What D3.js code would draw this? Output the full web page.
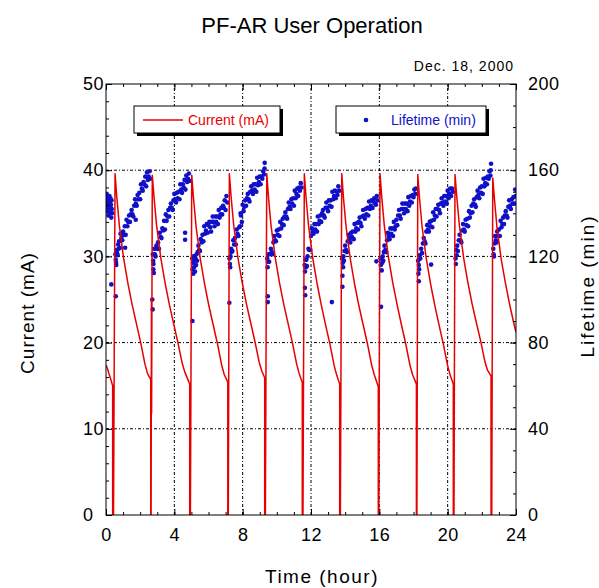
<!DOCTYPE html>
<html>
  <head>
    <meta charset="utf-8">
    <title>PF-AR User Operation</title>
    <script src="https://d3js.org/d3.v7.min.js"></script>
    <style>
      body { margin: 0; background: #fff; }
      svg text { font-family: "Liberation Sans", Arial, sans-serif; fill: #000; }
      .axis path { display: none; }
      .axis line { stroke: #000; stroke-width: 1; }
      .axis text { font-size: 18px; letter-spacing: 0.5px; }
      .grid line { stroke: #000; stroke-width: 1; stroke-dasharray: 3,2,1,2; }
    </style>
  </head>
  <body>
    <svg id="chart" width="599" height="588"></svg>
    <script>
      // tick labels
      var xTicks = [0, 4, 8, 12, 16, 20, 24];
      var currentTicks = [0, 10, 20, 30, 40, 50];
      var lifetimeTicks = [0, 40, 80, 120, 160, 200];

      // beam current (hour, mA)
      var currentData = [
        [0, 17.4], [0.1, 16.9], [0.2, 16.2], [0.3, 15.6], [0.39, 15.0], [0.39, 0], [0.44, 0], [0.53, 39.6],
        [0.63, 36.9], [0.78, 33.6], [1.03, 29.8], [1.28, 26.9], [1.53, 24.4], [1.78, 22.2], [2.03, 20.0], [2.28, 17.5], [2.43, 16.4], [2.6, 15.8], [2.62, 15.7],
        [2.62, 0], [2.64, 0], [2.66, 25], [2.67, 11.8], [2.71, 39.4],
        [2.81, 36.9], [2.96, 33.6], [3.21, 29.8], [3.46, 26.9], [3.71, 24.4], [3.96, 22.2], [4.21, 20.0], [4.46, 17.6], [4.61, 16.6], [4.88, 15.3], [4.9, 15.2],
        [4.9, 0], [4.94, 0], [5.02, 39.4],
        [5.12, 36.8], [5.27, 33.5], [5.52, 29.7], [5.77, 26.8], [6.02, 24.3], [6.27, 22.1], [6.52, 19.9], [6.77, 17.4], [6.92, 16.3], [7.11, 15.5], [7.13, 15.4],
        [7.13, 0], [7.16, 0], [7.22, 39.6],
        [7.32, 37.0], [7.47, 33.7], [7.72, 29.9], [7.97, 27.0], [8.22, 24.5], [8.47, 22.3], [8.72, 20.1], [8.97, 17.7], [9.12, 16.7], [9.27, 16.0], [9.29, 15.9],
        [9.29, 0], [9.33, 0], [9.41, 39.6],
        [9.51, 36.9], [9.66, 33.6], [9.91, 29.8], [10.16, 26.9], [10.41, 24.4], [10.66, 22.2], [10.91, 20.0], [11.16, 17.5], [11.31, 16.4], [11.47, 15.5], [11.49, 15.4],
        [11.49, 0], [11.53, 0], [11.61, 39.6],
        [11.71, 36.8], [11.86, 33.5], [12.11, 29.7], [12.36, 26.8], [12.61, 24.3], [12.86, 22.0], [13.11, 19.8], [13.36, 17.3], [13.51, 16.2], [13.66, 15.3], [13.68, 15.2],
        [13.68, 0], [13.72, 0], [13.8, 39.6],
        [13.9, 36.8], [14.05, 33.5], [14.3, 29.7], [14.55, 26.8], [14.8, 24.3], [15.05, 22.1], [15.3, 19.9], [15.55, 17.4], [15.7, 16.3], [15.92, 15.0], [15.94, 14.9],
        [15.94, 0], [15.97, 0], [16.04, 39.6],
        [16.14, 36.9], [16.29, 33.6], [16.54, 29.8], [16.79, 26.9], [17.04, 24.4], [17.29, 22.1], [17.54, 19.9], [17.79, 17.4], [17.94, 16.3], [18.15, 15.3], [18.17, 15.2],
        [18.17, 0], [18.2, 0], [18.25, 39.5],
        [18.35, 36.8], [18.5, 33.5], [18.75, 29.7], [19.0, 26.8], [19.25, 24.3], [19.5, 22.0], [19.75, 19.8], [20.0, 17.3], [20.15, 16.2], [20.31, 15.3], [20.33, 15.2],
        [20.33, 0], [20.37, 0], [20.43, 39.5],
        [20.53, 37.0], [20.68, 33.7], [20.93, 29.9], [21.18, 27.0], [21.43, 24.5], [21.68, 22.3], [21.93, 20.2], [22.18, 17.8], [22.33, 16.8], [22.52, 16.2], [22.54, 16.1],
        [22.54, 0], [22.58, 0], [22.64, 39.1],
        [22.74, 36.6], [22.89, 33.3], [23.14, 29.6], [23.39, 26.8], [23.64, 24.3], [23.89, 22.1], [24.0, 21.2]
      ];

      // beam lifetime (hour, min), one array per fill
      var lt0 = [[0.02,146],[0.04,149],[0.05,143],[0.07,147],[0.08,141],[0.10,145],[0.11,148],[0.13,143],[0.14,139],[0.16,146],[0.17,142],[0.19,144],[0.20,148],[0.22,140],[0.23,145],[0.25,143],[0.26,147],[0.28,141],[0.29,144],[0.31,138],[0.32,146],[0.34,142],[0.35,140],[0.31,107]];
      var lt1 = [[0.55,121],[0.57,118.5],[0.59,117],[0.61,121.5],[0.63,123],[0.65,121.5],[0.68,120.5],[0.71,125.5],[0.74,123.5],[0.77,127],[0.81,124],[0.85,130.5],[0.90,128.5],[0.95,127.5],[1.00,131.5],[1.05,130],[1.10,134],[1.15,130],[1.20,137],[1.25,134],[1.30,136],[1.35,139],[1.40,136],[1.45,139.5],[1.50,141.5],[1.55,139.5],[1.60,138.5],[1.65,143.5],[1.70,146.5],[1.75,144.5],[1.80,143.5],[1.85,148.5],[1.90,146.5],[1.95,149.5],[2.00,146.5],[2.05,153.5],[2.10,151.5],[2.15,150.5],[2.20,154.5],[2.25,153.5],[2.30,157],[2.35,152.5],[2.40,159],[2.45,155.5],[2.50,157],[2.55,159.5],[2.59,156],[0.57,101.5],[0.60,116],[1.74,137],[1.12,124]];
      var lt2 = [[2.74,121],[2.76,118],[2.78,116.5],[2.80,121],[2.83,123.5],[2.86,121],[2.90,120],[2.95,125],[3.00,123.5],[3.05,126.5],[3.10,123.5],[3.15,131],[3.20,129],[3.25,128.5],[3.30,133],[3.35,132],[3.40,136.5],[3.45,132.5],[3.50,139.5],[3.55,136.5],[3.60,138.5],[3.65,141.5],[3.70,138.5],[3.75,142.5],[3.80,144.5],[3.85,142.5],[3.90,141.5],[3.95,146],[4.00,149],[4.05,146.5],[4.10,145],[4.15,149.5],[4.20,147],[4.25,150],[4.30,146.5],[4.35,153.5],[4.40,151],[4.45,149.5],[4.50,153.5],[4.55,152],[4.60,155.5],[4.65,151],[4.70,157.5],[4.75,154.5],[4.80,156],[4.85,158.5],[4.88,155],[2.71,100],[2.73,95.4],[2.80,112.3],[4.63,131],[4.63,127.7],[2.77,114]];
      var lt3 = [[5.05,119],[5.07,114],[5.09,117],[5.11,112],[5.13,120],[5.15,115],[5.18,118],[5.21,113],[5.24,119],[5.27,116],[5.30,121],[5.33,118],[5.37,122],[5.41,125],[5.45,123],[5.50,122.5],[5.55,128],[5.60,126.5],[5.65,130],[5.70,127],[5.75,134],[5.80,130.5],[5.85,132],[5.90,135],[5.95,131],[6.00,134.5],[6.05,136],[6.10,133.5],[6.15,131.5],[6.20,136],[6.25,138.5],[6.30,136],[6.35,134],[6.40,138.5],[6.45,136],[6.50,138.5],[6.55,135],[6.60,141.5],[6.65,138],[6.70,139.5],[6.75,142.5],[6.80,139.5],[6.85,143.5],[6.90,142.5],[6.95,146],[7.00,141.5],[7.05,148],[7.10,145],[5.06,90]];
      var lt4 = [[7.23,119],[7.25,116.5],[7.27,115],[7.29,120],[7.32,123.5],[7.35,122],[7.40,122.5],[7.45,127.5],[7.50,125.5],[7.55,128.5],[7.60,125.5],[7.65,132.5],[7.70,130.5],[7.75,129.5],[7.80,133.5],[7.85,134],[7.88,140],[7.90,139],[7.95,136],[8.00,144],[8.05,141],[8.10,143],[8.15,146],[8.20,143.5],[8.25,147],[8.30,149],[8.35,146.5],[8.40,145.5],[8.45,150],[8.50,152.5],[8.55,150.5],[8.60,149],[8.65,153.5],[8.70,151],[8.75,153.5],[8.80,150],[8.85,156.5],[8.90,153],[8.95,154.5],[9.00,157],[9.05,153.5],[9.10,157],[9.15,156],[9.20,159.5],[9.25,158],[9.28,160.8],[9.29,163.4],[7.22,98.5]];
      var lt5 = [[9.44,119],[9.46,115],[9.48,117.5],[9.51,121],[9.55,117.5],[9.60,121],[9.65,123.5],[9.70,122],[9.75,121],[9.80,126.5],[9.85,129.5],[9.90,127.5],[9.95,127],[10.00,132],[10.05,130],[10.10,132.5],[10.15,129.5],[10.20,136],[10.25,133],[10.30,135],[10.35,137.5],[10.40,134.5],[10.45,138.5],[10.50,140.5],[10.55,138.5],[10.60,137.5],[10.65,142],[10.70,145],[10.75,143],[10.80,142],[10.85,146.5],[10.90,144.5],[10.95,147],[11.00,143.5],[11.05,150.5],[11.10,147],[11.15,149],[11.20,151.5],[11.25,148],[11.30,152],[11.35,150.5],[11.40,154],[11.45,152],[9.47,101.5],[9.47,98.8]];
      var lt6 = [[11.63,116],[11.65,113],[11.67,118.5],[11.70,115],[11.73,118.5],[11.76,115.5],[11.80,120],[11.85,123.5],[11.90,123],[11.95,123],[12.00,129.5],[12.05,133],[12.10,131.5],[12.15,130.5],[12.20,135],[12.25,132.5],[12.30,135],[12.35,131.5],[12.40,138.5],[12.45,135],[12.50,136.5],[12.55,139],[12.60,136],[12.65,140],[12.70,141.5],[12.75,139],[12.80,138],[12.85,142.5],[12.90,145],[12.95,142.5],[13.00,141],[13.05,146],[13.10,143.5],[13.15,146],[13.20,143],[13.25,150],[13.30,146.5],[13.35,148],[13.40,150.5],[13.45,147],[13.50,150],[13.55,148.5],[13.60,152.5],[13.65,150.5],[11.64,105.4],[11.66,102],[13.22,98.8]];
      var lt7 = [[13.82,119],[13.84,111],[13.86,117],[13.88,115],[13.90,120],[13.93,118],[13.96,122.5],[14.00,125],[14.05,123],[14.10,122],[14.15,127],[14.20,130],[14.25,128],[14.30,126.5],[14.35,131],[14.40,129],[14.45,131.5],[14.50,128],[14.55,135],[14.60,131.5],[14.65,133],[14.70,135.5],[14.75,132.5],[14.80,136],[14.85,138],[14.90,135.5],[14.95,134],[15.00,138.5],[15.05,141.5],[15.10,139],[15.15,137.5],[15.20,142],[15.25,139.5],[15.30,142.5],[15.35,139],[15.40,145.5],[15.45,142],[15.50,143.5],[15.55,146],[15.60,142.5],[15.65,145.5],[15.70,147],[15.75,144.5],[15.80,144],[15.85,148],[15.90,146],[13.84,105.9],[15.83,117.7]];
      var lt8 = [[16.07,119],[16.09,116],[16.11,119],[16.14,113.5],[16.17,117],[16.20,120],[16.23,118],[16.26,122],[16.30,125],[16.35,123],[16.40,122],[16.45,127.5],[16.50,131],[16.55,129.5],[16.60,128],[16.65,133],[16.70,130.5],[16.75,133],[16.80,129.5],[16.85,136],[16.90,132.5],[16.95,134],[17.00,137],[17.05,134.5],[17.10,139],[17.15,141.5],[17.20,139],[17.25,137.5],[17.30,142],[17.35,144.5],[17.40,142],[17.45,140],[17.50,144.5],[17.55,142],[17.60,144.5],[17.65,141],[17.70,147.5],[17.75,143.5],[17.80,145.5],[17.85,148],[17.90,145],[17.95,148.5],[18.00,147.5],[18.05,151],[18.10,149],[18.14,151.5],[16.10,96.6]];
      var lt9 = [[18.27,118],[18.29,112],[18.31,116],[18.33,114],[18.36,120.5],[18.40,119],[18.45,123.5],[18.50,121.5],[18.55,126],[18.60,128.5],[18.65,127],[18.70,126],[18.75,131.5],[18.80,134.5],[18.85,132.5],[18.90,131.5],[18.95,136],[19.00,134],[19.05,136.5],[19.10,133.5],[19.15,140.5],[19.20,137],[19.25,139],[19.30,142],[19.35,138.5],[19.40,142],[19.45,144],[19.50,141.5],[19.55,140],[19.60,144.5],[19.65,147],[19.70,145],[19.75,143.5],[19.80,148],[19.85,145.5],[19.90,148],[19.95,144.5],[20.00,150.5],[20.05,147],[20.10,149],[20.15,151.5],[20.20,148],[20.25,151.5],[20.30,150],[18.31,108.5],[19.03,116.2]];
      var lt10 = [[20.46,119],[20.48,116.5],[20.50,123],[20.53,120.5],[20.56,125],[20.60,122.5],[20.65,127.5],[20.70,130],[20.75,127.5],[20.80,126.5],[20.85,132],[20.90,135],[20.95,132.5],[21.00,131.5],[21.05,137],[21.10,134.5],[21.15,137.5],[21.20,134],[21.25,141],[21.30,138],[21.35,140],[21.40,143.5],[21.45,140.5],[21.50,144.5],[21.55,146.5],[21.60,144],[21.65,143],[21.70,147.5],[21.75,150.5],[21.80,148.5],[21.85,147],[21.90,152],[21.95,149.5],[22.00,152.5],[22.05,149],[22.10,156],[22.15,152.5],[22.20,154],[22.25,156.5],[22.30,153.5],[22.35,157],[22.40,156],[22.45,159.5],[22.50,157.5],[22.52,160],[22.54,163]];
      var lt11 = [[22.67,123.5],[22.69,121],[22.71,120],[22.74,126],[22.78,129.5],[22.82,127.5],[22.86,126.5],[22.90,131.5],[22.95,129.5],[23.00,132.5],[23.05,129.5],[23.10,136.5],[23.15,133.5],[23.20,135],[23.25,138],[23.30,135],[23.35,139],[23.40,141],[23.45,139],[23.50,138],[23.55,143],[23.60,146],[23.65,143.5],[23.70,142],[23.75,146.5],[23.80,144.5],[23.85,147.5],[23.90,144.5],[23.95,151],[23.99,148]];
      var lifetimeData = [].concat(lt0, lt1, lt2, lt3, lt4, lt5, lt6, lt7, lt8, lt9, lt10, lt11);

      var red = "#e60000", blue = "#1010c8";
      var margin = { top: 84, right: 83, bottom: 73, left: 106 };
      var width = 599, height = 588;
      var svg = d3.select("#chart");

      var x = d3.scaleLinear().domain([0, 24]).range([margin.left, width - margin.right]);
      var yCur = d3.scaleLinear().domain([0, 50]).range([height - margin.bottom, margin.top]);
      var yLife = d3.scaleLinear().domain([0, 200]).range([height - margin.bottom, margin.top]);
      var x0 = margin.left, x1 = width - margin.right, y0 = height - margin.bottom, y1 = margin.top;

      svg.append("defs").append("clipPath").attr("id", "plotClip")
        .append("rect").attr("x", x0).attr("y", y1).attr("width", x1 - x0).attr("height", y0 - y1);

      // dotted grid
      var grid = svg.append("g").attr("class", "grid");
      grid.selectAll(".gx").data(xTicks.slice(1, -1)).enter().append("line")
        .attr("x1", function(d) { return x(d); }).attr("x2", function(d) { return x(d); })
        .attr("y1", y0).attr("y2", y1);
      grid.selectAll(".gy").data(currentTicks.slice(1, -1)).enter().append("line")
        .attr("y1", function(d) { return yCur(d); }).attr("y2", function(d) { return yCur(d); })
        .attr("x1", x0).attr("x2", x1);

      // lifetime dots, then current line on top
      svg.append("g").attr("clip-path", "url(#plotClip)")
        .selectAll("circle").data(lifetimeData).enter().append("circle")
          .attr("cx", function(d) { return x(d[0]); })
          .attr("cy", function(d) { return yLife(d[1]); })
          .attr("r", 2.3)
          .attr("fill", blue);
      var line = d3.line()
        .x(function(d) { return x(d[0]); })
        .y(function(d) { return yCur(d[1]); });
      svg.append("path").datum(currentData)
        .attr("clip-path", "url(#plotClip)")
        .attr("d", line)
        .attr("fill", "none")
        .attr("stroke", red)
        .attr("stroke-width", 1.5)
        .attr("stroke-linejoin", "round");

      // axes, ticks pointing inward
      svg.append("g").attr("class", "axis").attr("transform", "translate(0," + y0 + ")")
        .call(d3.axisBottom(x).tickValues(x.ticks(24)).tickSize(-3).tickFormat(""));
      svg.append("g").attr("class", "axis").attr("transform", "translate(0," + y0 + ")")
        .call(d3.axisBottom(x).tickValues(xTicks).tickSize(-6).tickPadding(13).tickFormat(d3.format("d")));
      svg.append("g").attr("class", "axis").attr("transform", "translate(0," + y1 + ")")
        .call(d3.axisTop(x).tickValues(x.ticks(24)).tickSize(-3).tickFormat(""));
      svg.append("g").attr("class", "axis").attr("transform", "translate(0," + y1 + ")")
        .call(d3.axisTop(x).tickValues(xTicks).tickSize(-6).tickFormat(""));

      svg.append("g").attr("class", "axis").attr("transform", "translate(" + x0 + ",0)")
        .call(d3.axisLeft(yCur).tickValues(yCur.ticks(25)).tickSize(-3).tickFormat(""));
      var leftAxis = svg.append("g").attr("class", "axis").attr("transform", "translate(" + x0 + ",0)")
        .call(d3.axisLeft(yCur).tickValues(currentTicks).tickSize(-6).tickPadding(23).tickFormat(d3.format("d")));
      leftAxis.selectAll("text").attr("text-anchor", "start");

      svg.append("g").attr("class", "axis").attr("transform", "translate(" + x1 + ",0)")
        .call(d3.axisRight(yLife).tickValues(yLife.ticks(20)).tickSize(-3).tickFormat(""));
      svg.append("g").attr("class", "axis").attr("transform", "translate(" + x1 + ",0)")
        .call(d3.axisRight(yLife).tickValues(lifetimeTicks).tickSize(-6).tickPadding(12).tickFormat(d3.format("d")));

      // frame
      svg.append("rect").attr("x", x0).attr("y", y1).attr("width", x1 - x0).attr("height", y0 - y1)
        .attr("fill", "none").attr("stroke", "#000").attr("stroke-width", 1);

      // legend boxes with drop shadow
      function legendBox(bx, by, bw, bh) {
        svg.append("rect").attr("x", bx + 3).attr("y", by + 3).attr("width", bw).attr("height", bh).attr("fill", "#000");
        svg.append("rect").attr("x", bx).attr("y", by).attr("width", bw).attr("height", bh)
          .attr("fill", "#fff").attr("stroke", "#000").attr("stroke-width", 1);
      }
      legendBox(134, 106, 146, 27);
      svg.append("line").attr("x1", 143).attr("x2", 183).attr("y1", 120).attr("y2", 120)
        .attr("stroke", red).attr("stroke-width", 1.5);
      svg.append("text").attr("x", 188).attr("y", 125).style("font-size", "14px").style("fill", red).text("Current (mA)");
      legendBox(336, 106, 150, 27);
      svg.append("circle").attr("cx", 366).attr("cy", 120).attr("r", 2.3).attr("fill", blue);
      svg.append("text").attr("x", 391).attr("y", 125).style("font-size", "14px").style("fill", blue).text("Lifetime (min)");

      // titles
      svg.append("text").attr("x", 312).attr("y", 33).attr("text-anchor", "middle")
        .style("font-size", "22px").text("PF-AR User Operation");
      svg.append("text").attr("x", 514).attr("y", 71).attr("text-anchor", "end")
        .style("font-size", "14px").style("letter-spacing", "1px").text("Dec. 18, 2000");
      svg.append("text").attr("x", 322).attr("y", 583).attr("text-anchor", "middle")
        .style("font-size", "19px").style("letter-spacing", "1.5px").text("Time (hour)");
      svg.append("text").attr("transform", "translate(34,313) rotate(-90)").attr("text-anchor", "middle")
        .style("font-size", "19px").style("letter-spacing", "1px").text("Current (mA)");
      svg.append("text").attr("transform", "translate(594,286) rotate(-90)").attr("text-anchor", "middle")
        .style("font-size", "19px").style("letter-spacing", "2px").text("Lifetime (min)");
    </script>
  </body>
</html>
